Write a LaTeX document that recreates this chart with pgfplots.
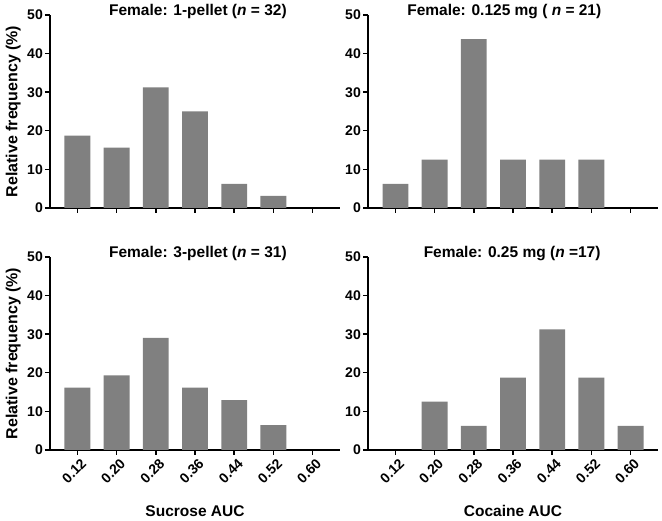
\documentclass[border=0pt]{standalone}
\usepackage{pgfplots}
\pgfplotsset{compat=1.18}
\usepackage{fontspec}
\setmainfont{Liberation Sans}
\definecolor{bargray}{RGB}{128,128,128}
\pgfplotsset{
  hist/.style={
    scale only axis, width=290pt, height=193pt,
    xmin=-0.7, xmax=6.7, ymin=0, ymax=50,
    axis lines=left, axis line style={-, line width=1.6pt},
    ytick={0,10,20,30,40,50}, xtick={0,1,2,3,4,5,6},
    tick align=outside, major tick length=5pt,
    tick style={line width=1.4pt, black},
    /pgf/number format/assume math mode=true,
    tick label style={font=\bfseries\fontsize{14}{15}\selectfont},
    yticklabel style={inner sep=0pt, xshift=-2pt},
    xticklabel style={rotate=45, anchor=east, inner sep=0pt, yshift=-9pt},
    title style={font=\bfseries\fontsize{15.5}{16}\selectfont, anchor=base, inner sep=0pt},
    ylabel style={font=\bfseries\fontsize{16}{17}\selectfont, at={(axis description cs:-0.1,0.5)}, anchor=south, inner sep=0pt},
    xlabel style={font=\bfseries\fontsize{15.5}{16}\selectfont, at={(axis description cs:0.5,-0.347)}, anchor=base, inner sep=0pt},
  },
  notx/.style={xticklabels={}},
  withx/.style={xticklabels={0.12,0.20,0.28,0.36,0.44,0.52,0.60}},
  bars/.style={ybar, bar width=0.66, bar shift=0pt, fill=bargray, draw=none},
}
\begin{document}
\begin{tikzpicture}
\path[use as bounding box] (0,0) rectangle (662pt,521pt);
% top left
\begin{axis}[hist, notx, at={(50pt,313pt)}, anchor=south west,
  title={Female: 1-pellet (\textit{n} = 32)}, title style={at={(axis description cs:0.51,1)}, yshift=-7pt},
  ylabel={Relative frequency (\%)}]
\addplot[bars] coordinates {(0,18.75) (1,15.625) (2,31.25) (3,25) (4,6.25) (5,3.125)};
\end{axis}
% top right
\begin{axis}[hist, notx, at={(368pt,313pt)}, anchor=south west,
  title={Female: 0.125 mg ( \textit{n} = 21)}, title style={at={(axis description cs:0.47,1)}, yshift=-7pt}]
\addplot[bars] coordinates {(0,6.25) (1,12.5) (2,43.75) (3,12.5) (4,12.5) (5,12.5)};
\end{axis}
% bottom left
\begin{axis}[hist, withx, at={(50pt,71pt)}, anchor=south west,
  title={Female: 3-pellet (\textit{n} = 31)}, title style={at={(axis description cs:0.51,1)}, yshift=-7pt},
  ylabel={Relative frequency (\%)}, xlabel={Sucrose AUC}]
\addplot[bars] coordinates {(0,16.13) (1,19.35) (2,29.03) (3,16.13) (4,12.9) (5,6.45)};
\end{axis}
% bottom right
\begin{axis}[hist, withx, at={(368pt,71pt)}, anchor=south west,
  title={Female: 0.25 mg (\textit{n} =17)}, title style={at={(axis description cs:0.497,1)}, yshift=-7pt},
  xlabel={Cocaine AUC}]
\addplot[bars] coordinates {(1,12.5) (2,6.25) (3,18.75) (4,31.25) (5,18.75) (6,6.25)};
\end{axis}
\end{tikzpicture}
\end{document}
